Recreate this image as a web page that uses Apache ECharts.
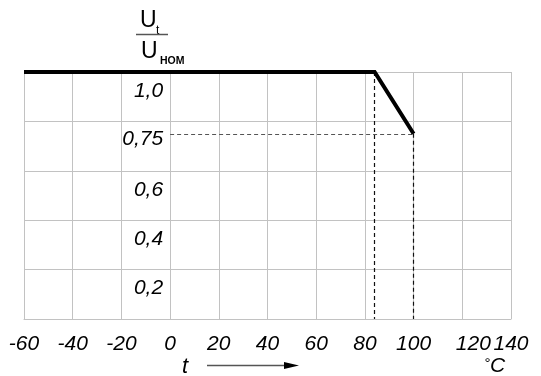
<!DOCTYPE html>
<html>
<head>
<meta charset="utf-8">
<script src="https://cdn.jsdelivr.net/npm/echarts@6/dist/echarts.min.js"></script>
<style>
html,body{margin:0;padding:0;background:#fff;}
#c{width:541px;height:376px;}
</style>
</head>
<body>
<div id="c"></div>
<script>
// ---- data ----
const curveTemps = [-60, 84, 100];
const curveRatios = [1.0, 1.0, 0.75];
const xTickValues = [-60, -40, -20, 0, 20, 40, 60, 80, 100, 120, 140];
const xTickLabels = ['-60', '-40', '-20', '0', '20', '40', '60', '80', '100', '120', '140'];
const yTickValues = [0.2, 0.4, 0.6, 1.0];
const yTickLabels = ['0,2', '0,4', '0,6', '1,0'];
const refRatio = 0.75;
const refRatioLabel = '0,75';
const kneeTemp = 84;
const endTemp = 100;
const xUnit = 't';

const FONT = 'Liberation Sans, Arial, sans-serif';
const GRID = '#c2c2c2';
const GRID_LEFT = 24, GRID_W = 487;
const X_MIN = -60, X_MAX = 140;

const chart = echarts.init(document.getElementById('c'), null, {renderer: 'canvas'});

const option = {
  animation: false,
  backgroundColor: '#fff',
  grid: {left: GRID_LEFT, top: 72, width: GRID_W, height: 247, containLabel: false, outerBoundsMode: 'none'},
  xAxis: {
    type: 'value', min: X_MIN, max: X_MAX, interval: 20,
    axisLine: {show: true, onZero: false, lineStyle: {color: GRID, width: 1}},
    axisTick: {show: false},
    splitLine: {show: true, lineStyle: {color: GRID, width: 1}},
    axisLabel: {
      margin: 15, fontSize: 21, fontStyle: 'italic', color: '#000', fontFamily: FONT,
      formatter: function (v) {
        const i = xTickValues.findIndex(t => Math.abs(t - v) < 1e-6);
        if (i < 0) return '';
        if (xTickLabels[i] === '120') return '{s|' + xTickLabels[i] + '}';
        return xTickLabels[i];
      },
      rich: {s: {fontSize: 21, fontStyle: 'italic', color: '#000', fontFamily: FONT, padding: [0, 0, 0, 22]}}
    }
  },
  yAxis: {
    type: 'value', min: 0, max: 1, interval: 0.2,
    // place the y axis (and its labels) at t = 0
    offset: -(0 - X_MIN) / (X_MAX - X_MIN) * GRID_W,
    axisLine: {show: true, onZero: false, lineStyle: {color: GRID, width: 1}},
    axisTick: {show: false},
    splitLine: {show: true, lineStyle: {color: GRID, width: 1}},
    axisLabel: {
      margin: 7, fontSize: 21, fontStyle: 'italic', color: '#000', fontFamily: FONT,
      lineHeight: 38,
      formatter: function (v) {
        const i = yTickValues.findIndex(t => Math.abs(t - v) < 1e-6);
        return i < 0 ? '' : '\n' + yTickLabels[i];
      }
    }
  },
  series: [
    {
      type: 'line',
      data: curveTemps.map((t, i) => [t, curveRatios[i]]),
      symbol: 'none',
      clip: false,
      lineStyle: {color: '#000', width: 4, cap: 'butt', join: 'miter'},
      z: 5,
      markLine: {
        silent: true,
        symbol: ['none', 'none'],
        data: [
          [{coord: [0, refRatio], lineStyle: {color: '#555', width: 1.2, type: [4, 3]},
            label: {show: true, position: 'start', formatter: '\n' + refRatioLabel, distance: 7, lineHeight: 10,
              fontSize: 21, fontStyle: 'italic', color: '#000', fontFamily: FONT}},
           {coord: [endTemp, refRatio]}],
          [{coord: [kneeTemp, 1.0], lineStyle: {color: '#111', width: 1.2, type: [4, 3]}, label: {show: false}},
           {coord: [kneeTemp, 0]}],
          [{coord: [endTemp, refRatio], lineStyle: {color: '#111', width: 1.2, type: [4, 3]}, label: {show: false}},
           {coord: [endTemp, 0]}]
        ]
      }
    }
  ],
  graphic: [
    // y-axis name: U_t / U_ном
    {type: 'text', left: 140, top: 9, style: {text: 'U', font: '23px ' + FONT, fill: '#000'}},
    {type: 'text', left: 156, top: 25, style: {text: 't', font: '12px ' + FONT, fill: '#000'}},
    {type: 'line', shape: {x1: 136, y1: 34.5, x2: 168, y2: 34.5}, style: {stroke: '#555', lineWidth: 1.5}},
    {type: 'text', left: 141, top: 40, style: {text: 'U', font: '23px ' + FONT, fill: '#000'}},
    {type: 'text', left: 160, top: 56, style: {text: 'НОМ', font: 'bold 10.5px ' + FONT, fill: '#000'}},
    // x-axis name: t  --->
    {type: 'text', left: 182, top: 356, style: {text: xUnit, font: 'italic 22px ' + FONT, fill: '#000'}},
    {type: 'line', shape: {x1: 207, y1: 365.5, x2: 288, y2: 365.5}, style: {stroke: '#555', lineWidth: 1.5}},
    {type: 'polygon', shape: {points: [[284, 362], [299, 365.5], [284, 369]]}, style: {fill: '#000'}},
    // unit °C
    {type: 'text', left: 484, top: 356, style: {text: '{d|°}{c|C}', rich: {
      d: {font: 'italic 15px ' + FONT, fill: '#000', verticalAlign: 'top'},
      c: {font: 'italic 21px ' + FONT, fill: '#000'}
    }}}
  ]
};
chart.setOption(option);
</script>
</body>
</html>
